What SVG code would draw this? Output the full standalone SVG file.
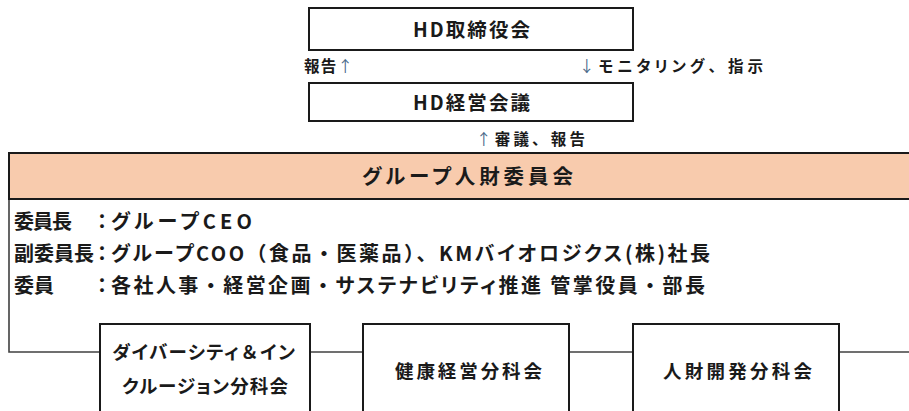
<svg xmlns="http://www.w3.org/2000/svg" width="909" height="411" viewBox="0 0 909 411">
<style>
  text { font-family: "Noto Sans CJK JP", "Noto Sans", sans-serif; font-weight: bold; fill: #1a1a1a; font-feature-settings: "palt"; }
  .fw { font-feature-settings: normal; }
  .box { fill: #ffffff; stroke: #1a1a1a; stroke-width: 2; }
  .hdr { fill: #F8CBAD; stroke: #1a1a1a; stroke-width: 2; }
  .conn { fill: none; stroke: #404040; stroke-width: 1.6; }
  .big { font-size: 19.5px; }
  .lbl { font-size: 15.5px; }
  .arw { font-weight: normal; fill: #4a6a8a; }
  .mem { font-size: 20px; }
  .sub { font-size: 18.5px; }
</style>
<rect width="909" height="411" fill="#ffffff"/>
<g id="connectors">
  <path class="conn" d="M9,199 V352 H100"/>
  <path class="conn" d="M310,352 H363"/>
  <path class="conn" d="M569,352 H633"/>
  <path class="conn" d="M839,352 H912"/>
</g>
<g id="hd-board">
  <rect class="box" x="309" y="8" width="324" height="42"/>
  <text class="big" x="413" y="37" textLength="117" lengthAdjust="spacing">HD取締役会</text>
</g>
<g id="label-report">
  <text class="lbl" x="304" y="72" textLength="49" lengthAdjust="spacing">報告<tspan class="arw">↑</tspan></text>
</g>
<g id="label-monitor">
  <text class="lbl" x="579" y="72" textLength="184" lengthAdjust="spacing"><tspan class="arw">↓</tspan>モニタリング<tspan class="fw">、</tspan>指示</text>
</g>
<g id="hd-mgmt">
  <rect class="box" x="309" y="83" width="324" height="38"/>
  <text class="big" x="413" y="110" textLength="117" lengthAdjust="spacing">HD経営会議</text>
</g>
<g id="label-deliberate">
  <text class="lbl" x="476" y="145" textLength="109" lengthAdjust="spacing"><tspan class="arw">↑</tspan>審議<tspan class="fw">、</tspan>報告</text>
</g>
<g id="committee">
  <rect class="hdr" x="9" y="153" width="910" height="46"/>
  <text x="362" y="184" style="font-size:20.5px" textLength="211" lengthAdjust="spacing">グループ人財委員会</text>
  <text class="mem" x="14" y="229" textLength="58" lengthAdjust="spacing">委員長</text>
  <text class="mem" x="97" y="229">：</text>
  <text class="mem" x="111" y="229" textLength="141" lengthAdjust="spacing">グループCEO</text>
  <text class="mem" x="14" y="261" textLength="80" lengthAdjust="spacing">副委員長</text>
  <text class="mem" x="97" y="261">：</text>
  <text class="mem" x="111" y="261" textLength="599" lengthAdjust="spacing">グループCOO<tspan class="fw">（</tspan>食品<tspan class="fw">・</tspan>医薬品<tspan class="fw">）、</tspan>KMバイオロジクス(株)社長</text>
  <text class="mem" x="14" y="293" textLength="40" lengthAdjust="spacing">委員</text>
  <text class="mem" x="97" y="293">：</text>
  <text class="mem" x="111" y="293" textLength="594" lengthAdjust="spacing">各社人事<tspan class="fw">・</tspan>経営企画<tspan class="fw">・</tspan>サステナビリティ推進 管掌役員<tspan class="fw">・</tspan>部長</text>
</g>
<g id="subcommittee-di">
  <rect class="box" x="100" y="324" width="210" height="100"/>
  <text class="sub" x="112" y="359" textLength="183" lengthAdjust="spacing">ダイバーシティ<tspan class="fw">＆</tspan>イン</text>
  <text class="sub" x="122" y="393" textLength="166" lengthAdjust="spacing">クルージョン分科会</text>
</g>
<g id="subcommittee-health">
  <rect class="box" x="363" y="324" width="206" height="100"/>
  <text class="sub" x="395" y="378" textLength="147" lengthAdjust="spacing">健康経営分科会</text>
</g>
<g id="subcommittee-hr">
  <rect class="box" x="633" y="324" width="206" height="100"/>
  <text class="sub" x="663" y="378" textLength="149" lengthAdjust="spacing">人財開発分科会</text>
</g>
</svg>
